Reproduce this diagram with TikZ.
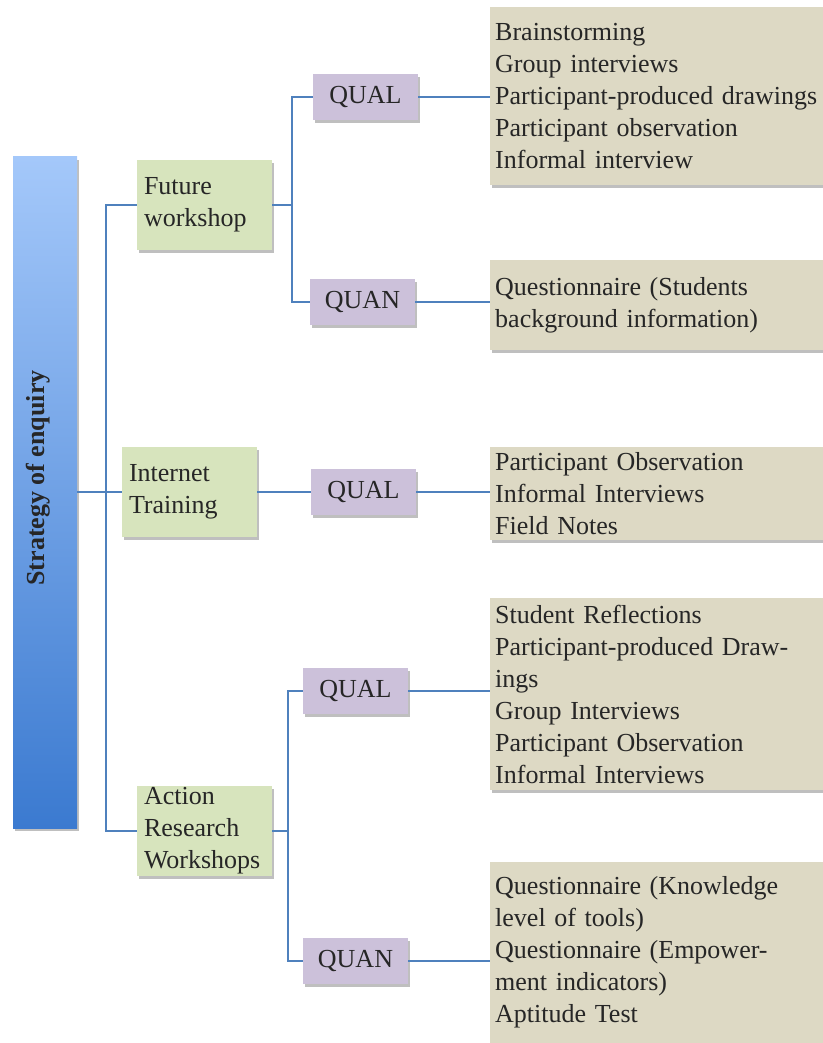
\documentclass[tikz,border=0pt]{standalone}
\usepackage{fontspec}
\setmainfont{Liberation Serif}
\usetikzlibrary{positioning,shadows,calc}
\definecolor{trunkblue}{HTML}{4F81BD}
\definecolor{barlight}{HTML}{A4C8FA}
\definecolor{bardark}{HTML}{3B7AD0}
\definecolor{wsgreen}{HTML}{D7E4BD}
\definecolor{mlilac}{HTML}{CCC1DA}
\definecolor{listtan}{HTML}{DDD9C4}

\begin{document}
\begin{tikzpicture}[x=1pt,y=1pt,
every node/.style={font=\fontsize{26}{32}\selectfont,text=black!85},
soft/.style={drop shadow={shadow xshift=2pt,shadow yshift=-3pt,opacity=0.25,fill=black}},
bar/.style={soft,top color=barlight,bottom color=bardark,minimum width=64pt,minimum height=671pt,inner sep=0pt},
wshop/.style={soft,fill=wsgreen,minimum width=135pt,minimum height=90pt,text width=121pt,inner xsep=7pt,inner ysep=1pt,align=left},
method/.style={soft,fill=mlilac,minimum width=105pt,minimum height=46pt,inner sep=0pt},
list/.style={soft,fill=listtan,text width=345pt,inner xsep=5pt,align=left,anchor=west},
conn/.style={draw=trunkblue,line width=1.5pt}
]
\useasboundingbox (0,0) rectangle (822,-1043);

\node[bar] (bar) at (45,-492.5) {};
\node[rotate=90,font=\fontsize{26}{32}\selectfont\bfseries] (title) at (38,-478) {Strategy of enquiry};

\node[wshop] (fw)  at (204.5,-205) {Future\\workshop};
\node[wshop] (it)  at (189.5,-492) {Internet\\Training};
\node[wshop] (arw) at (204.5,-831) {Action\\Research\\Workshops};

\node[method] (fwqual) at (365.5,-97)  {QUAL};
\node[method] (fwquan) at (362.5,-302) {QUAN};
\node[method] (itqual) at (363.5,-492) {QUAL};
\node[method] (arqual) at (355.5,-691) {QUAL};
\node[method] (arquan) at (355.5,-961) {QUAN};

\node[list,minimum height=178pt] (fwqlist) at (490,-96)
  {Brainstorming\\Group interviews\\Participant-produced drawings\\Participant observation\\Informal interview};
\node[list,minimum height=90pt]  (fwnlist) at (490,-305)
  {Questionnaire (Students\\background information)};
\node[list,minimum height=93pt]  (itlist)  at (490,-493.5)
  {Participant Observation\\Informal Interviews\\Field Notes};
\node[list,minimum height=192pt] (arqlist) at (490,-694)
  {Student Reflections\\Participant-produced Draw-\\ings\\Group Interviews\\Participant Observation\\Informal Interviews};
\node[list,minimum height=181pt] (arnlist) at (490,-952.5)
  {Questionnaire (Knowledge\\level of tools)\\Questionnaire (Empower-\\ment indicators)\\Aptitude Test};

% trunk
\coordinate (trunk) at (106,-492);
\draw[conn] (bar.east |- it.west) -- (it.west);
\draw[conn] (fw.west) -| (trunk) |- (arw.west);

% future workshop
\coordinate (fwfork) at (292,-205);
\draw[conn] (fw.east) -- (fwfork);
\draw[conn] (fwqual.west) -| (fwfork) |- (fwquan.west);
\draw[conn] (fwqual.east) -- (fwqual.east -| fwqlist.west);
\draw[conn] (fwquan.east) -- (fwquan.east -| fwnlist.west);

% internet training
\draw[conn] (it.east) -- (itqual.west);
\draw[conn] (itqual.east) -- (itqual.east -| itlist.west);

% action research
\coordinate (arfork) at (288,-831);
\draw[conn] (arw.east) -- (arfork);
\draw[conn] (arqual.west) -| (arfork) |- (arquan.west);
\draw[conn] (arqual.east) -- (arqual.east -| arqlist.west);
\draw[conn] (arquan.east) -- (arquan.east -| arnlist.west);
\end{tikzpicture}
\end{document}
